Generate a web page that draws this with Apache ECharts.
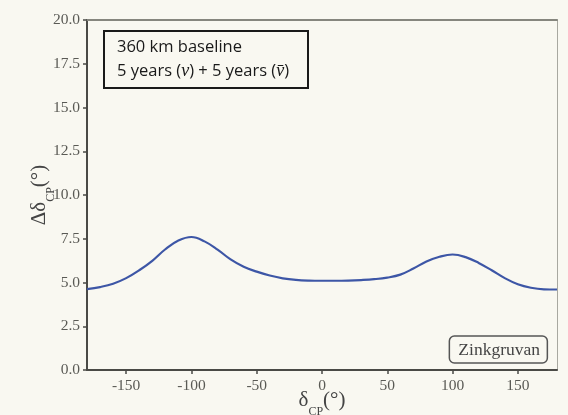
<!DOCTYPE html>
<html>
<head>
<meta charset="utf-8">
<script src="https://cdn.jsdelivr.net/npm/echarts@6/dist/echarts.min.js"></script>
<style>
  html, body { margin: 0; padding: 0; background: #f9f8f1; }
  #chart { width: 568px; height: 415px; }
</style>
</head>
<body>
<div id="chart"></div>
<script>
// CP phase (degrees) and its 1-sigma resolution
const deltaCP = [-180, -170, -160, -150, -140, -130, -120, -110, -100, -90, -80, -70, -60, -50, -40,
  -30, -20, -10, 0, 10, 20, 30, 40, 50, 60, 70, 80, 90, 100, 110, 120, 130, 140, 150, 160, 170, 180];
const resolution = [4.62, 4.74, 4.93, 5.25, 5.70, 6.24, 6.90, 7.40, 7.60, 7.35, 6.88, 6.32, 5.90, 5.62, 5.40,
  5.24, 5.15, 5.11, 5.10, 5.10, 5.11, 5.14, 5.19, 5.28, 5.45, 5.80, 6.20, 6.47, 6.60, 6.45, 6.12, 5.70, 5.25, 4.90, 4.70, 4.61, 4.60];
const xTicks = [-150, -100, -50, 0, 50, 100, 150];
const siteName = 'Zinkgruvan';

const serif = '"Liberation Serif", "DejaVu Serif", serif';
const sans = '"Open Sans", "Noto Sans", sans-serif';
const tickColor = '#5a5a55';

const nameRich = {
  m: { fontFamily: serif, fontSize: 21, color: '#444', lineHeight: 28, verticalAlign: 'top' },
  s: { fontFamily: serif, fontSize: 12, color: '#444', lineHeight: 12, verticalAlign: 'bottom' }
};

const chart = echarts.init(document.getElementById('chart'));
chart.setOption({
  backgroundColor: '#f9f8f1',
  animation: false,
  grid: { left: 87, right: 11, top: 20, bottom: 45, outerBoundsMode: 'none' },
  title: [
    {
      left: 104, top: 27,
      padding: [8, 19, 8, 13],
      borderColor: '#1a1a1a', borderWidth: 2,
      backgroundColor: '#f9f8f1',
      text: '{t|360 km baseline}\n{t|5 years (}{v|v}{t|) + 5 years (}{v|v\u0304}{t|)}',
      textStyle: {
        rich: {
          t: { fontFamily: sans, fontSize: 16.5, fontWeight: 'normal', color: '#1a1a1a', lineHeight: 24 },
          v: { fontFamily: serif, fontStyle: 'italic', fontWeight: 'normal', fontSize: 18, color: '#1a1a1a', lineHeight: 24 }
        }
      }
    },
    {
      right: 20, top: 336,
      padding: [4, 8, 3, 9],
      borderColor: '#555', borderWidth: 1.5, borderRadius: 5,
      backgroundColor: '#f9f8f1',
      text: siteName,
      textStyle: { fontFamily: serif, fontSize: 17.5, fontWeight: 'normal', color: '#444', lineHeight: 20 }
    }
  ],
  xAxis: [
    {
      type: 'value', min: -180, max: 180,
      name: '{m|δ}{s|CP}{m|(°)}',
      nameLocation: 'middle', nameGap: 20, nameMoveOverlap: false,
      nameTextStyle: { rich: nameRich },
      splitLine: { show: false },
      axisLine: { onZero: false, lineStyle: { color: '#4a4a46', width: 2 } },
      axisTick: { customValues: xTicks, length: 4, lineStyle: { color: '#4a4a46', width: 1.5 } },
      axisLabel: { customValues: xTicks, margin: 8, fontFamily: serif, fontSize: 15.5, color: tickColor }
    },
    {
      type: 'value', min: -180, max: 180, position: 'top',
      axisLine: { show: true, onZero: false, lineStyle: { color: '#86867e', width: 2 } },
      axisTick: { show: false }, axisLabel: { show: false }, splitLine: { show: false }
    }
  ],
  yAxis: [
    {
      type: 'value', min: 0, max: 20, interval: 2.5,
      name: '{m|Δδ}{s|CP}{m|(°)}',
      nameLocation: 'middle', nameGap: 30, nameRotate: 90, nameMoveOverlap: false,
      nameTextStyle: { rich: nameRich },
      splitLine: { show: false },
      axisLine: { show: true, onZero: false, lineStyle: { color: '#4a4a46', width: 2 } },
      axisTick: { show: true, length: 4, lineStyle: { color: '#4a4a46', width: 1.5 } },
      axisLabel: {
        margin: 7, fontFamily: serif, fontSize: 15.5, color: tickColor,
        formatter: v => v.toFixed(1)
      }
    },
    {
      type: 'value', min: 0, max: 20, position: 'right',
      axisLine: { show: true, onZero: false, lineStyle: { color: '#a8a8a0', width: 1 } },
      axisTick: { show: false }, axisLabel: { show: false }, splitLine: { show: false }
    }
  ],
  series: [
    {
      type: 'line',
      data: deltaCP.map((x, i) => [x, resolution[i]]),
      smooth: 0.4,
      symbol: 'none',
      lineStyle: { color: '#3d56a6', width: 2.2 }
    }
  ]
});
</script>
</body>
</html>
